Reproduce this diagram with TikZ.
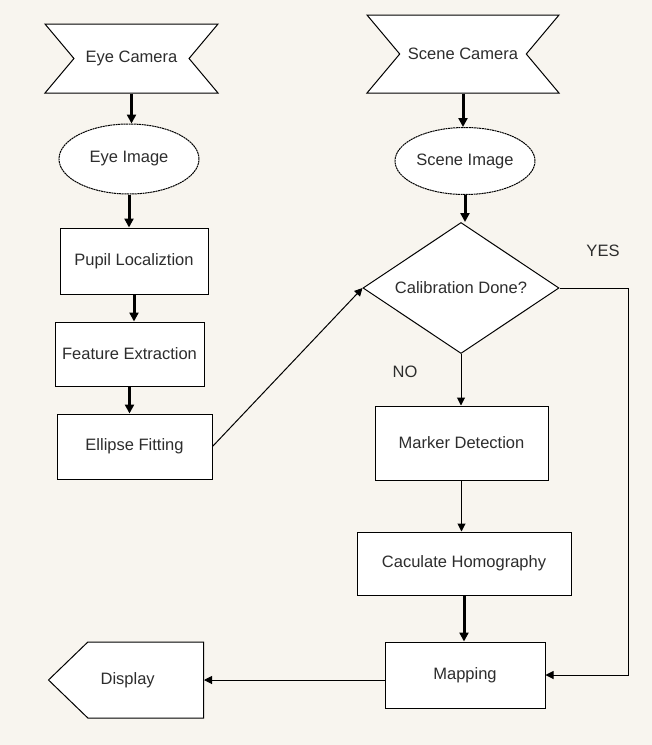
\documentclass[tikz,border=0pt]{standalone}
\usepackage{fontspec}
\setmainfont{Liberation Sans}
\usetikzlibrary{arrows.meta,calc,positioning,shapes.geometric,shapes.symbols}
\definecolor{paperc}{RGB}{248,245,239}
\definecolor{textc}{RGB}{45,45,45}

\begin{document}
\begin{tikzpicture}[
  x=1pt, y=-1pt,
  every node/.style={font=\fontsize{16.5}{19}\selectfont, text=textc},
  box/.style={draw, fill=white, line width=1pt, inner sep=0pt},
  camera/.style={box, shape=signal, signal to=nowhere, signal from=west and east,
                 signal pointer angle=100},
  image/.style={box, ellipse, dashed, dash pattern=on 2pt off 0.6pt},
  proc/.style={box, rectangle},
  decide/.style={box, diamond, aspect=1.5},
  screen/.style={box, shape=signal, signal to=west, signal pointer angle=88},
  bigarr/.style={-{Triangle[length=9pt,width=9pt]}, line width=3pt},
  smallarr/.style={-{Triangle[length=8pt,width=8pt]}, line width=1pt},
]
\useasboundingbox (0,0) rectangle (652,745);
\fill[paperc] (0,0) rectangle (652,745);

% eye side
\node[camera, minimum width=173pt, minimum height=69pt] (ecam) at (131.5,58.5) {Eye Camera};
\node[image, minimum width=140pt, minimum height=70pt] (eimg) at (129,159) {Eye Image};
\node[proc, minimum width=148pt, minimum height=66pt] (pupil) at (134,261) {Pupil Localiztion};
\node[proc, minimum width=149pt, minimum height=64pt] (feat) at (129.5,354) {Feature Extraction};
\node[proc, minimum width=155pt, minimum height=65pt] (fit) at (134.5,446.5) {Ellipse Fitting};

% scene side
\node[camera, minimum width=192pt, minimum height=78pt] (scam) at (463,54) {Scene Camera};
\node[image, minimum width=140pt, minimum height=67pt] (simg) at (465,161) {Scene Image};
\node[decide, minimum width=196pt, minimum height=131pt] (calib) at (461,288) {Calibration Done?};
\node[proc, minimum width=173pt, minimum height=74pt] (marker) at (461.5,443) {Marker Detection};
\node[proc, minimum width=214pt, minimum height=63pt] (homog) at (464,563.5) {Caculate Homography};
\node[proc, minimum width=160pt, minimum height=66pt] (mapping) at (465,675) {Mapping};
\node[screen, minimum width=155pt, minimum height=76pt, anchor=east] (display) at (204,680) {\hspace*{-36pt}Display};

% branch labels
\node (yes) at (603,251) {YES};
\node (no) at (405,372) {NO};
\coordinate (yesbend) at (628,675);

% eye chain
\draw[bigarr] (ecam.south) -- (ecam.south |- eimg.north);
\draw[bigarr] (eimg.south) -- (eimg.south |- pupil.north);
\draw[bigarr] (pupil.south) -- (pupil.south |- feat.north);
\draw[bigarr] (feat.south) -- (feat.south |- fit.north);
\draw[smallarr] (fit.east) -- (calib.west);

% scene chain
\draw[bigarr] (scam.south) -- (scam.south |- simg.north);
\draw[bigarr] (simg.south) -- (simg.south |- calib.north);
\draw[smallarr] (calib.south) -- (calib.south |- marker.north);
\draw[smallarr] (marker.south) -- (marker.south |- homog.north);
\draw[bigarr] (homog.south) -- (homog.south |- mapping.north);
\draw[smallarr] (calib.east) -| (yesbend) -- (mapping.east);
\draw[smallarr] (display.east -| mapping.west) -- (display.east);

\end{tikzpicture}
\end{document}
